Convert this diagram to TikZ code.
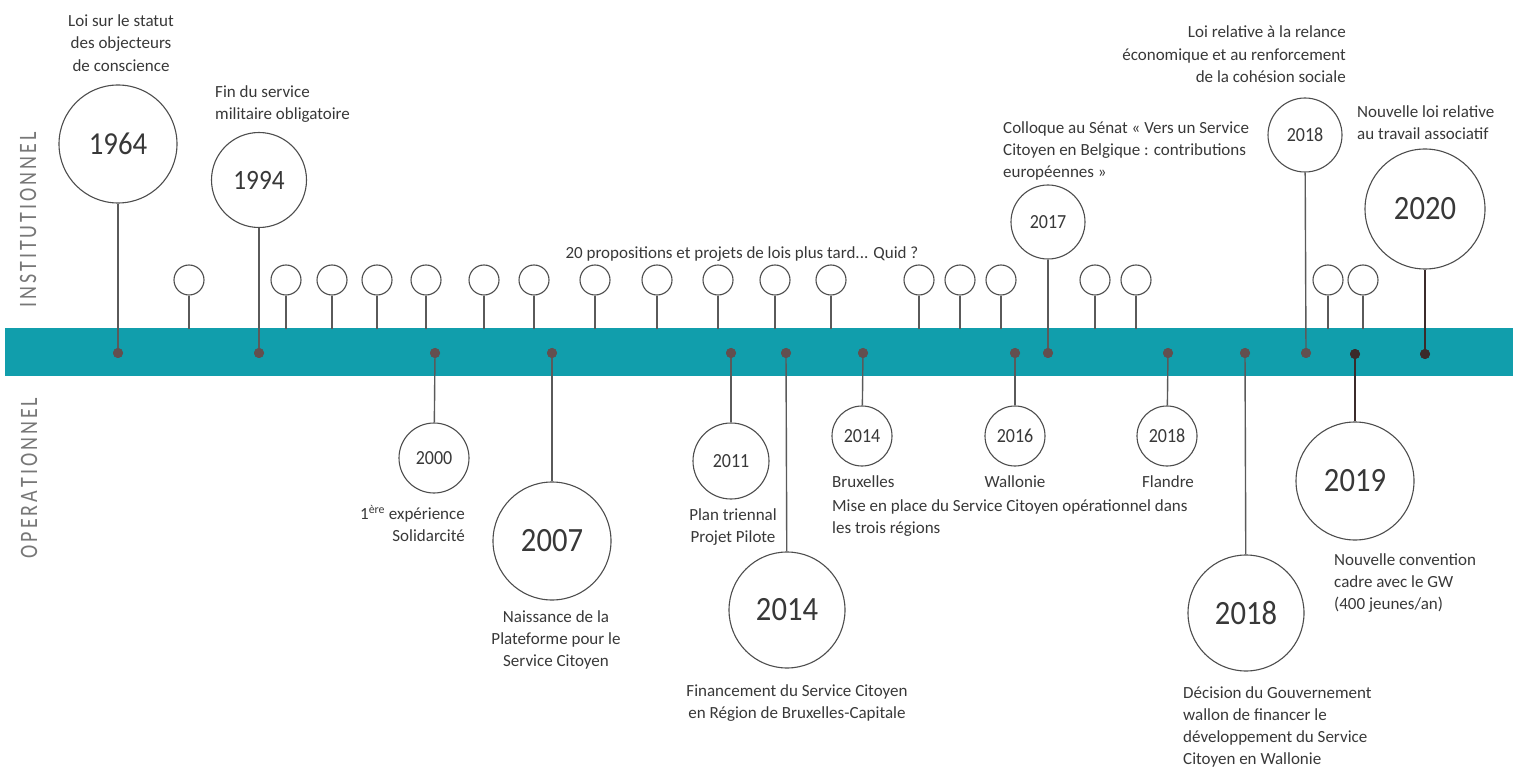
\documentclass[tikz,border=0pt]{standalone}
\usepackage{fontspec}
\setmainfont{Carlito}
\newfontfamily\yearfont{Carlito}[FakeStretch=0.9]
\newfontfamily\sidefont{Carlito}[FakeStretch=0.8]
\definecolor{band}{HTML}{119EAC}
\definecolor{ink}{HTML}{383838}
\definecolor{circ}{HTML}{4D4D4D}
\definecolor{stemc}{HTML}{5A5A5A}
\definecolor{dotc}{HTML}{634F4F}
\definecolor{dotd}{HTML}{3B2B2B}
\definecolor{side}{HTML}{777777}
\newcommand\lsp[1]{#1\kern3pt}
\begin{document}
\begin{tikzpicture}[x=1pt,y=-1pt,
  yr/.style={circle,draw=circ,line width=1.1pt,fill=white,inner sep=0pt,minimum size=#1,text=ink},
  bigy/.style={font=\yearfont\fontsize{34}{34}\selectfont},
  midy/.style={font=\yearfont\fontsize{28}{28}\selectfont},
  smally/.style={font=\yearfont\fontsize{20}{20}\selectfont},
  pinc/.style={circle,draw=circ,line width=1.1pt,fill=white,inner sep=0pt,minimum size=30pt},
  stem/.style={draw=stemc,line width=1.4pt},
  darkstem/.style={draw=dotd,line width=1.8pt},
  dot/.style={circle,fill=dotc,inner sep=0pt,minimum size=10pt},
  darkdot/.style={circle,fill=dotd,inner sep=0pt,minimum size=10pt},
  lbl/.style={inner sep=0pt,text=ink,font=\fontsize{17}{22}\selectfont},
  sidelbl/.style={inner sep=0pt,text=side,rotate=90,font=\sidefont\fontsize{25}{25}\selectfont}
]
\useasboundingbox (0,0) rectangle (1513,767);
% band
\fill[band] (5,328) rectangle (1513,376);
% side labels
\node[sidelbl] (inst) at (28,220) {\lsp{I}\lsp{N}\lsp{S}\lsp{T}\lsp{I}\lsp{T}\lsp{U}\lsp{T}\lsp{I}\lsp{O}\lsp{N}\lsp{N}\lsp{E}L};
\node[sidelbl] (oper) at (29,478) {\lsp{O}\lsp{P}\lsp{E}\lsp{R}\lsp{A}\lsp{T}\lsp{I}\lsp{O}\lsp{N}\lsp{N}\lsp{E}L};
% small pins above the band
\foreach \x [count=\i] in {189,286,332,377,426,484,534,595,657,718,775,831,919,960,1001,1095,1136,1328,1363}{
  \node[pinc] (p\i) at (\x,280) {};
  \coordinate (b\i) at (\x,329);
  \draw[stem] (p\i) -- (b\i);
}
% dots on the band
\node[dot] (d1964) at (118,353) {};
\node[dot] (d1994) at (259,353) {};
\node[dot] (d2000) at (435,353) {};
\node[dot] (d2007) at (552,353) {};
\node[dot] (d2011) at (731,353) {};
\node[dot] (d2014a) at (786,353) {};
\node[dot] (d2014b) at (863,353) {};
\node[dot] (d2016) at (1015,353) {};
\node[dot] (d2017) at (1048,353) {};
\node[dot] (d2018b) at (1168,353) {};
\node[dot] (d2018c) at (1245,353) {};
\node[dot] (d2018a) at (1306,353) {};
\node[darkdot] (d2019) at (1355,354) {};
\node[darkdot] (d2020) at (1425,354) {};
% year circles
\node[yr=118pt,font=\yearfont\fontsize{32}{32}\selectfont] (c1964) at (118,144) {1964};
\node[yr=95pt,midy] (c1994) at (259,180) {1994};
\node[yr=74pt,smally] (c2017) at (1048,222) {2017};
\node[yr=74pt,smally] (c2018a) at (1305,135) {2018};
\node[yr=120pt,bigy] (c2020) at (1425,209) {2020};
\node[yr=70pt,smally] (c2000) at (434,458) {2000};
\node[yr=118pt,bigy] (c2007) at (552,541) {2007};
\node[yr=76pt,smally] (c2011) at (731,461) {2011};
\node[yr=116pt,bigy] (c2014a) at (787,610) {2014};
\node[yr=60pt,smally] (c2014b) at (862,436) {2014};
\node[yr=60pt,smally] (c2016) at (1015,436) {2016};
\node[yr=60pt,smally] (c2018b) at (1167,436) {2018};
\node[yr=116pt,bigy] (c2018c) at (1246,613) {2018};
\node[yr=118pt,bigy] (c2019) at (1355,481) {2019};
% stems from circles to dots
\draw[stem] (c1964) -- (d1964.center);
\draw[stem] (c1994) -- (d1994.center);
\draw[stem] (c2017) -- (d2017.center);
\draw[stem] (c2018a) -- (d2018a.center);
\draw[darkstem] (c2020) -- (d2020.center);
\draw[stem] (d2000.center) -- (c2000);
\draw[stem] (d2007.center) -- (c2007);
\draw[stem] (d2011.center) -- (c2011);
\draw[stem] (d2014a.center) -- (c2014a);
\draw[stem] (d2014b.center) -- (c2014b);
\draw[stem] (d2016.center) -- (c2016);
\draw[stem] (d2018b.center) -- (c2018b);
\draw[stem] (d2018c.center) -- (c2018c);
\draw[darkstem] (d2019.center) -- (c2019);
% redraw dots on top of stems
\foreach \n in {d1964,d1994,d2000,d2007,d2011,d2014a,d2014b,d2016,d2017,d2018b,d2018c,d2018a}{
  \fill[dotc] (\n.center) circle (5pt);
}
\fill[dotd] (d2019.center) circle (5pt);
\fill[dotd] (d2020.center) circle (5pt);
% labels
\node[lbl,align=center,anchor=north] (t1964) at (121,15) {Loi sur le statut\\des objecteurs\\de conscience};
\node[lbl,align=left,anchor=north west] (t1994) at (215,85) {Fin du service\\militaire obligatoire};
\node[lbl,anchor=north] (t20) at (742,246) {20 propositions et projets de lois plus tard... Quid ?};
\node[lbl,align=left,anchor=north west] (t2017) at (1003,121) {Colloque au Sénat « Vers un Service\\Citoyen en Belgique : contributions\\européennes »};
\node[lbl,align=right,anchor=north east] (t2018a) at (1346,26) {Loi relative à la relance\\économique et au renforcement\\de la cohésion sociale};
\node[lbl,align=left,anchor=north west] (t2020) at (1357,105) {Nouvelle loi relative\\au travail associatif};
\node[lbl,align=right,anchor=north east] (t2000) at (465,505) {1\textsuperscript{ère} expérience\\Solidarcité};
\node[lbl,align=center,anchor=north] (t2007) at (556,610) {Naissance de la\\Plateforme pour le\\Service Citoyen};
\node[lbl,align=center,anchor=north] (t2011) at (733,508) {Plan triennal\\Projet Pilote};
\node[lbl,align=center,anchor=north] (t2014a) at (797,684) {Financement du Service Citoyen\\en Région de Bruxelles-Capitale};
\node[lbl,anchor=north west] (tbxl) at (832,475) {Bruxelles};
\node[lbl,anchor=north] (twal) at (1015,475) {Wallonie};
\node[lbl,anchor=north] (tfla) at (1168,475) {Flandre};
\node[lbl,align=left,anchor=north west] (tmise) at (832,499) {Mise en place du Service Citoyen opérationnel dans\\les trois régions};
\node[lbl,align=left,anchor=north west] (t2018c) at (1183,686) {Décision du Gouvernement\\wallon de financer le\\développement du Service\\Citoyen en Wallonie};
\node[lbl,align=left,anchor=north west] (t2019) at (1334,553) {Nouvelle convention\\cadre avec le GW\\(400 jeunes/an)};
\end{tikzpicture}
\end{document}
